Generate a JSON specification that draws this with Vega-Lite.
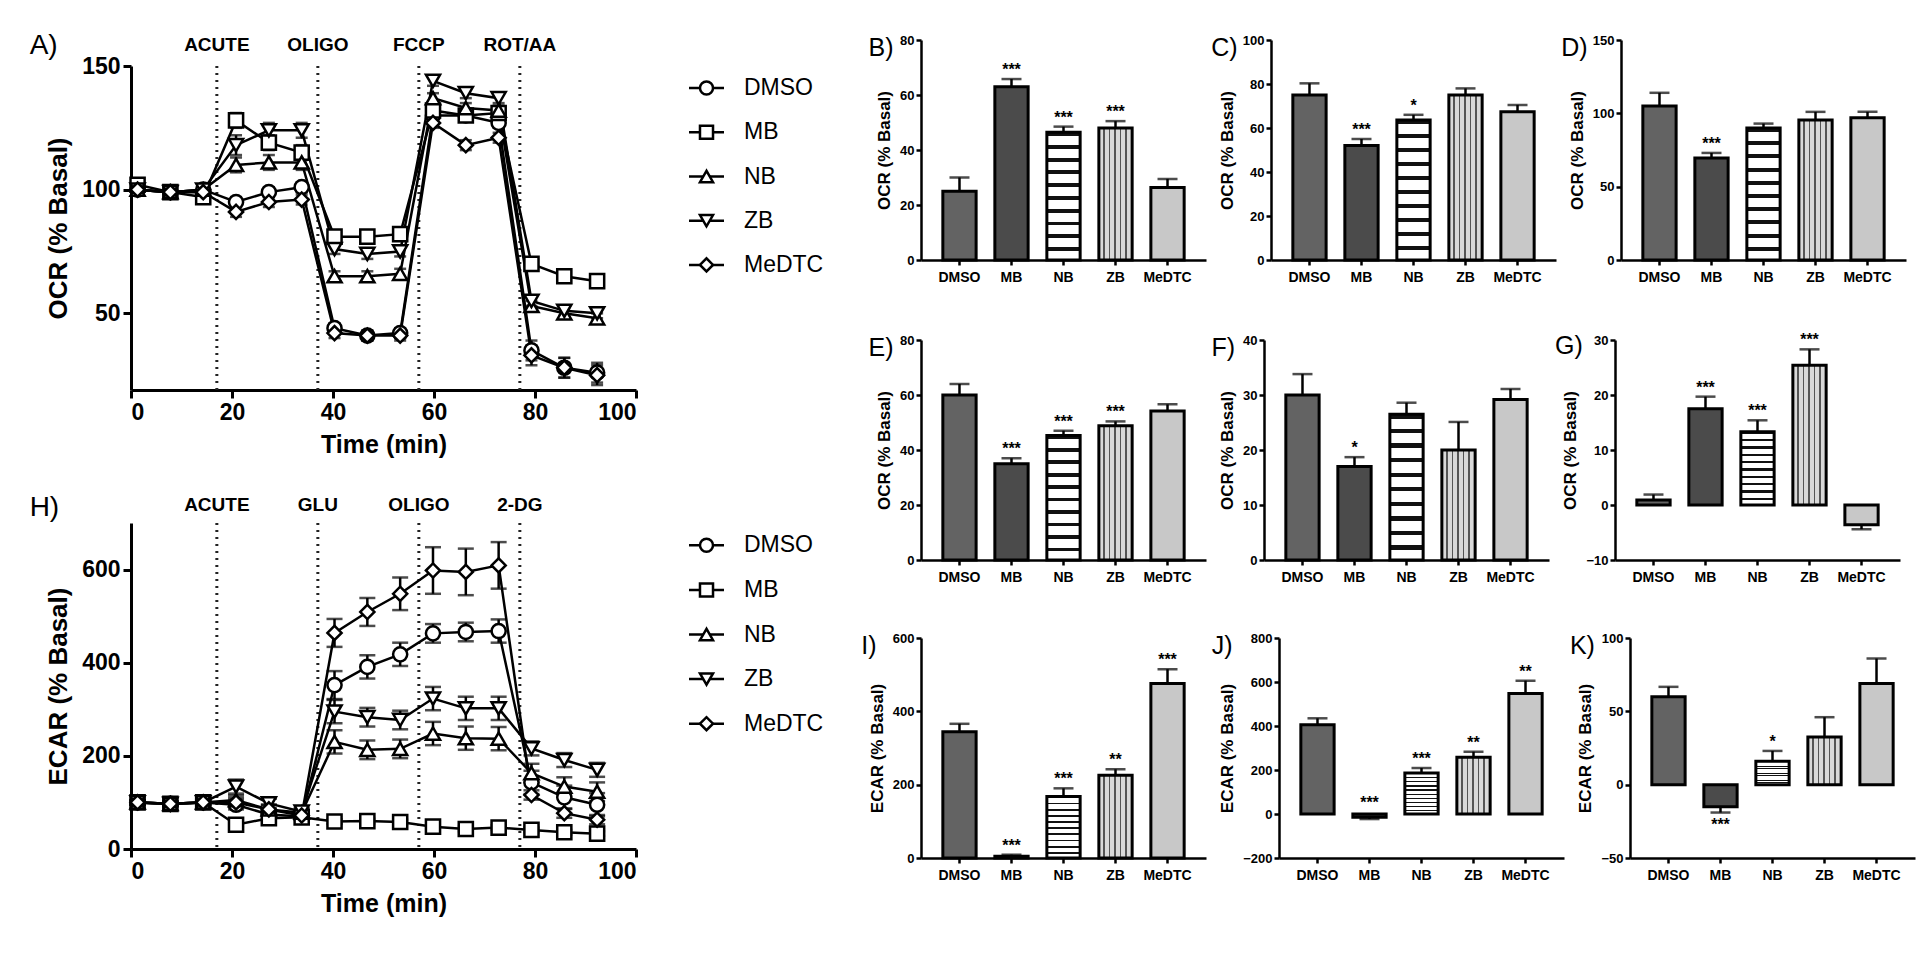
{
"$schema":"https://vega.github.io/schema/vega-lite/v6.json",
"background":"white",
"padding":{"left":29,"top":31,"right":5,"bottom":5},
"config":{"font":"Liberation Sans","view":{"stroke":null},
"axis":{"grid":false,"domainColor":"black","tickColor":"black","labelColor":"black","titleColor":"black","labelFontWeight":"bold","titleFontWeight":"bold","domainWidth":2.5,"tickWidth":2.5,"tickSize":5,"labelFontSize":13,"titleFontSize":17,"labelPadding":2,"titlePadding":6},
"title":{"fontWeight":"normal","color":"black","anchor":"start","frame":"bounds"}},
"datasets":{
"groups":[{"g":"DMSO"},{"g":"MB"},{"g":"NB"},{"g":"ZB"},{"g":"MeDTC"}],
"ocr":[
{"t":1.3,"g":"DMSO","v":100,"e":1},{"t":7.8,"g":"DMSO","v":99,"e":1},{"t":14.3,"g":"DMSO","v":100,"e":1},{"t":20.8,"g":"DMSO","v":95,"e":2},{"t":27.3,"g":"DMSO","v":99,"e":2},{"t":33.8,"g":"DMSO","v":101,"e":2},{"t":40.3,"g":"DMSO","v":44,"e":2},{"t":46.8,"g":"DMSO","v":41,"e":2},{"t":53.3,"g":"DMSO","v":42,"e":2},{"t":59.8,"g":"DMSO","v":130,"e":2},{"t":66.3,"g":"DMSO","v":130,"e":2},{"t":72.8,"g":"DMSO","v":127,"e":2},{"t":79.3,"g":"DMSO","v":35,"e":4},{"t":85.8,"g":"DMSO","v":28,"e":4},{"t":92.3,"g":"DMSO","v":26,"e":4},
{"t":1.3,"g":"MB","v":102,"e":1},{"t":7.8,"g":"MB","v":99,"e":1},{"t":14.3,"g":"MB","v":97,"e":1},{"t":20.8,"g":"MB","v":128,"e":3},{"t":27.3,"g":"MB","v":119,"e":3},{"t":33.8,"g":"MB","v":115,"e":3},{"t":40.3,"g":"MB","v":81,"e":2},{"t":46.8,"g":"MB","v":81,"e":2},{"t":53.3,"g":"MB","v":82,"e":2},{"t":59.8,"g":"MB","v":132,"e":2},{"t":66.3,"g":"MB","v":130,"e":2},{"t":72.8,"g":"MB","v":131,"e":2},{"t":79.3,"g":"MB","v":70,"e":2},{"t":85.8,"g":"MB","v":65,"e":2},{"t":92.3,"g":"MB","v":63,"e":2},
{"t":1.3,"g":"NB","v":100,"e":1},{"t":7.8,"g":"NB","v":99,"e":1},{"t":14.3,"g":"NB","v":100,"e":1},{"t":20.8,"g":"NB","v":110,"e":3},{"t":27.3,"g":"NB","v":111,"e":3},{"t":33.8,"g":"NB","v":111,"e":3},{"t":40.3,"g":"NB","v":65,"e":2},{"t":46.8,"g":"NB","v":65,"e":2},{"t":53.3,"g":"NB","v":66,"e":2},{"t":59.8,"g":"NB","v":137,"e":2},{"t":66.3,"g":"NB","v":133,"e":2},{"t":72.8,"g":"NB","v":132,"e":2},{"t":79.3,"g":"NB","v":53,"e":2},{"t":85.8,"g":"NB","v":50,"e":2},{"t":92.3,"g":"NB","v":48,"e":2},
{"t":1.3,"g":"ZB","v":100,"e":1},{"t":7.8,"g":"ZB","v":99,"e":1},{"t":14.3,"g":"ZB","v":100,"e":1},{"t":20.8,"g":"ZB","v":118,"e":4},{"t":27.3,"g":"ZB","v":124,"e":3},{"t":33.8,"g":"ZB","v":124,"e":3},{"t":40.3,"g":"ZB","v":76,"e":2},{"t":46.8,"g":"ZB","v":74,"e":2},{"t":53.3,"g":"ZB","v":75,"e":2},{"t":59.8,"g":"ZB","v":144,"e":2},{"t":66.3,"g":"ZB","v":139,"e":2},{"t":72.8,"g":"ZB","v":137,"e":2},{"t":79.3,"g":"ZB","v":55,"e":2},{"t":85.8,"g":"ZB","v":51,"e":2},{"t":92.3,"g":"ZB","v":50,"e":2},
{"t":1.3,"g":"MeDTC","v":100,"e":1},{"t":7.8,"g":"MeDTC","v":99,"e":1},{"t":14.3,"g":"MeDTC","v":99,"e":1},{"t":20.8,"g":"MeDTC","v":91,"e":2},{"t":27.3,"g":"MeDTC","v":95,"e":2},{"t":33.8,"g":"MeDTC","v":96,"e":2},{"t":40.3,"g":"MeDTC","v":42,"e":2},{"t":46.8,"g":"MeDTC","v":41,"e":2},{"t":53.3,"g":"MeDTC","v":41,"e":2},{"t":59.8,"g":"MeDTC","v":127,"e":2},{"t":66.3,"g":"MeDTC","v":118,"e":2},{"t":72.8,"g":"MeDTC","v":121,"e":2},{"t":79.3,"g":"MeDTC","v":33,"e":4},{"t":85.8,"g":"MeDTC","v":28,"e":4},{"t":92.3,"g":"MeDTC","v":25,"e":4}
],
"ecar":[
{"t":1.3,"g":"DMSO","v":100,"e":5},{"t":7.8,"g":"DMSO","v":97,"e":5},{"t":14.3,"g":"DMSO","v":100,"e":5},{"t":20.8,"g":"DMSO","v":95,"e":10},{"t":27.3,"g":"DMSO","v":74,"e":10},{"t":33.8,"g":"DMSO","v":70,"e":8},{"t":40.3,"g":"DMSO","v":352,"e":30},{"t":46.8,"g":"DMSO","v":391,"e":25},{"t":53.3,"g":"DMSO","v":418,"e":25},{"t":59.8,"g":"DMSO","v":463,"e":20},{"t":66.3,"g":"DMSO","v":466,"e":20},{"t":72.8,"g":"DMSO","v":468,"e":25},{"t":79.3,"g":"DMSO","v":143,"e":25},{"t":85.8,"g":"DMSO","v":111,"e":25},{"t":92.3,"g":"DMSO","v":95,"e":25},
{"t":1.3,"g":"MB","v":100,"e":5},{"t":7.8,"g":"MB","v":97,"e":5},{"t":14.3,"g":"MB","v":100,"e":5},{"t":20.8,"g":"MB","v":52,"e":5},{"t":27.3,"g":"MB","v":66,"e":5},{"t":33.8,"g":"MB","v":68,"e":5},{"t":40.3,"g":"MB","v":59,"e":5},{"t":46.8,"g":"MB","v":60,"e":5},{"t":53.3,"g":"MB","v":58,"e":5},{"t":59.8,"g":"MB","v":48,"e":5},{"t":66.3,"g":"MB","v":43,"e":5},{"t":72.8,"g":"MB","v":46,"e":5},{"t":79.3,"g":"MB","v":41,"e":5},{"t":85.8,"g":"MB","v":36,"e":5},{"t":92.3,"g":"MB","v":33,"e":5},
{"t":1.3,"g":"NB","v":100,"e":5},{"t":7.8,"g":"NB","v":97,"e":5},{"t":14.3,"g":"NB","v":100,"e":5},{"t":20.8,"g":"NB","v":105,"e":10},{"t":27.3,"g":"NB","v":85,"e":10},{"t":33.8,"g":"NB","v":78,"e":8},{"t":40.3,"g":"NB","v":230,"e":25},{"t":46.8,"g":"NB","v":213,"e":20},{"t":53.3,"g":"NB","v":215,"e":20},{"t":59.8,"g":"NB","v":248,"e":25},{"t":66.3,"g":"NB","v":238,"e":25},{"t":72.8,"g":"NB","v":237,"e":25},{"t":79.3,"g":"NB","v":163,"e":20},{"t":85.8,"g":"NB","v":134,"e":20},{"t":92.3,"g":"NB","v":123,"e":20},
{"t":1.3,"g":"ZB","v":100,"e":5},{"t":7.8,"g":"ZB","v":97,"e":5},{"t":14.3,"g":"ZB","v":100,"e":5},{"t":20.8,"g":"ZB","v":134,"e":15},{"t":27.3,"g":"ZB","v":98,"e":10},{"t":33.8,"g":"ZB","v":80,"e":8},{"t":40.3,"g":"ZB","v":295,"e":25},{"t":46.8,"g":"ZB","v":283,"e":20},{"t":53.3,"g":"ZB","v":277,"e":20},{"t":59.8,"g":"ZB","v":323,"e":25},{"t":66.3,"g":"ZB","v":302,"e":25},{"t":72.8,"g":"ZB","v":302,"e":25},{"t":79.3,"g":"ZB","v":216,"e":15},{"t":85.8,"g":"ZB","v":191,"e":15},{"t":92.3,"g":"ZB","v":170,"e":15},
{"t":1.3,"g":"MeDTC","v":100,"e":5},{"t":7.8,"g":"MeDTC","v":97,"e":5},{"t":14.3,"g":"MeDTC","v":100,"e":5},{"t":20.8,"g":"MeDTC","v":100,"e":10},{"t":27.3,"g":"MeDTC","v":85,"e":10},{"t":33.8,"g":"MeDTC","v":72,"e":8},{"t":40.3,"g":"MeDTC","v":464,"e":30},{"t":46.8,"g":"MeDTC","v":509,"e":30},{"t":53.3,"g":"MeDTC","v":548,"e":35},{"t":59.8,"g":"MeDTC","v":598,"e":50},{"t":66.3,"g":"MeDTC","v":595,"e":50},{"t":72.8,"g":"MeDTC","v":609,"e":50},{"t":79.3,"g":"MeDTC","v":116,"e":10},{"t":85.8,"g":"MeDTC","v":77,"e":10},{"t":92.3,"g":"MeDTC","v":63,"e":10}
]},
"columns":2,"align":"none","spacing":32,
"concat":[
{"vconcat":[
{"width":1,"height":1,"data":{"values":[{"a":1}]},"mark":{"type":"point","opacity":0},"encoding":{}},
{"vconcat":[
{"hconcat":[
{"width":505,"height":324,
"title":{"text":"A)","fontSize":28,"offset":-24,"dx":-16},
"layer":[
{"data":{"values":[{"t":17,"lab":"ACUTE"},{"t":37,"lab":"OLIGO"},{"t":57,"lab":"FCCP"},{"t":77,"lab":"ROT/AA"}]},
"layer":[
{"mark":{"type":"rule","strokeDash":[2,5],"strokeWidth":3,"color":"#222"},"encoding":{"x":{"field":"t","type":"quantitative"}}},
{"mark":{"type":"text","fontSize":19,"fontWeight":"bold","color":"black"},"encoding":{"x":{"field":"t","type":"quantitative"},"y":{"datum":158.5},"text":{"field":"lab"}}}]},
{"data":{"name":"ocr"},
"encoding":{"x":{"field":"t","type":"quantitative","scale":{"domain":[0,100],"nice":false,"zero":false},"axis":{"values":[0,20,40,60,80,100],"title":"Time (min)","labelFontSize":23,"titleFontSize":25,"tickSize":8,"domainWidth":3,"tickWidth":3,"labelPadding":3,"titlePadding":8}},
"y":{"field":"v","type":"quantitative","scale":{"domain":[19,150],"nice":false,"zero":false},"axis":{"values":[50,100,150],"title":"OCR (% Basal)","labelFontSize":23,"titleFontSize":26,"tickSize":8,"domainWidth":3,"tickWidth":3,"labelPadding":3,"titlePadding":10}}},
"layer":[
{"mark":{"type":"line","color":"black","strokeWidth":2.5},"encoding":{"detail":{"field":"g"}}},
{"mark":{"type":"errorbar","ticks":{"size":12},"thickness":2.5,"color":"black"},"encoding":{"yError":{"field":"e"}}},
{"mark":{"type":"point","filled":false,"fill":"white","color":"black","strokeWidth":2.5,"size":200,"opacity":1},"encoding":{"shape":{"field":"g","type":"nominal","scale":{"domain":["DMSO","MB","NB","ZB","MeDTC"],"range":["circle","square","triangle-up","triangle-down","diamond"]},"legend":null}}}]}]},
{"width":140,"height":221,"data":{"name":"groups"},
"encoding":{"y":{"field":"g","type":"nominal","sort":["DMSO","MB","NB","ZB","MeDTC"],"scale":{"type":"point","padding":0.5},"axis":null}},
"layer":[
{"mark":{"type":"rule","strokeWidth":2.5,"color":"black"},"encoding":{"x":{"datum":0,"type":"quantitative","scale":{"domain":[0,140],"nice":false,"zero":false},"axis":null},"x2":{"datum":35}}},
{"mark":{"type":"point","filled":false,"fill":"white","color":"black","strokeWidth":2.5,"size":170,"opacity":1},"encoding":{"x":{"datum":17.5,"type":"quantitative"},"shape":{"field":"g","type":"nominal","scale":{"domain":["DMSO","MB","NB","ZB","MeDTC"],"range":["circle","square","triangle-up","triangle-down","diamond"]},"legend":null}}},
{"mark":{"type":"text","align":"left","baseline":"middle","fontSize":23,"color":"black"},"encoding":{"x":{"datum":55,"type":"quantitative"},"text":{"field":"g"}}}]}
],"spacing":49},
{"hconcat":[
{"width":505,"height":326,
"title":{"text":"H)","fontSize":28,"offset":-26,"dx":-16},
"layer":[
{"data":{"values":[{"t":17,"lab":"ACUTE"},{"t":37,"lab":"GLU"},{"t":57,"lab":"OLIGO"},{"t":77,"lab":"2-DG"}]},
"layer":[
{"mark":{"type":"rule","strokeDash":[2,5],"strokeWidth":3,"color":"#222"},"encoding":{"x":{"field":"t","type":"quantitative"}}},
{"mark":{"type":"text","fontSize":19,"fontWeight":"bold","color":"black"},"encoding":{"x":{"field":"t","type":"quantitative"},"y":{"datum":739},"text":{"field":"lab"}}}]},
{"data":{"name":"ecar"},
"encoding":{"x":{"field":"t","type":"quantitative","scale":{"domain":[0,100],"nice":false,"zero":false},"axis":{"values":[0,20,40,60,80,100],"title":"Time (min)","labelFontSize":23,"titleFontSize":25,"tickSize":8,"domainWidth":3,"tickWidth":3,"labelPadding":3,"titlePadding":8}},
"y":{"field":"v","type":"quantitative","scale":{"domain":[0,700],"nice":false},"axis":{"values":[0,200,400,600],"title":"ECAR (% Basal)","labelFontSize":23,"titleFontSize":26,"tickSize":8,"domainWidth":3,"tickWidth":3,"labelPadding":3,"titlePadding":10}}},
"layer":[
{"mark":{"type":"line","color":"black","strokeWidth":2.5},"encoding":{"detail":{"field":"g"}}},
{"mark":{"type":"errorbar","ticks":{"size":16},"thickness":2.5,"color":"black"},"encoding":{"yError":{"field":"e"}}},
{"mark":{"type":"point","filled":false,"fill":"white","color":"black","strokeWidth":2.5,"size":200,"opacity":1},"encoding":{"shape":{"field":"g","type":"nominal","scale":{"domain":["DMSO","MB","NB","ZB","MeDTC"],"range":["circle","square","triangle-up","triangle-down","diamond"]},"legend":null}}}]}]},
{"width":140,"height":223,"data":{"name":"groups"},
"encoding":{"y":{"field":"g","type":"nominal","sort":["DMSO","MB","NB","ZB","MeDTC"],"scale":{"type":"point","padding":0.5},"axis":null}},
"layer":[
{"mark":{"type":"rule","strokeWidth":2.5,"color":"black"},"encoding":{"x":{"datum":0,"type":"quantitative","scale":{"domain":[0,140],"nice":false,"zero":false},"axis":null},"x2":{"datum":35}}},
{"mark":{"type":"point","filled":false,"fill":"white","color":"black","strokeWidth":2.5,"size":170,"opacity":1},"encoding":{"x":{"datum":17.5,"type":"quantitative"},"shape":{"field":"g","type":"nominal","scale":{"domain":["DMSO","MB","NB","ZB","MeDTC"],"range":["circle","square","triangle-up","triangle-down","diamond"]},"legend":null}}},
{"mark":{"type":"text","align":"left","baseline":"middle","fontSize":23,"color":"black"},"encoding":{"x":{"datum":55,"type":"quantitative"},"text":{"field":"g"}}}]}
],"spacing":49}
],"spacing":36}
],"spacing":-13},
{"vconcat":[
{"concat":[
{"width":285,"height":220,"title":{"text":"B)","fontSize":25,"offset":-27,"dx":-7},
"data":{"values":[{"g":"DMSO","v":25,"hi":30,"s":""},{"g":"MB","v":63,"hi":65.8,"s":"***"},{"g":"NB","v":46.5,"hi":48.5,"s":"***"},{"g":"ZB","v":48,"hi":50.5,"s":"***"},{"g":"MeDTC","v":26.4,"hi":29.5,"s":""}]},
"encoding":{"x":{"field":"g","type":"nominal","sort":["DMSO","MB","NB","ZB","MeDTC"],"scale":{"paddingInner":0.36,"paddingOuter":0.42},"axis":{"title":null,"labelAngle":0,"labelFontSize":14,"labelPadding":5}}},
"layer":[
{"mark":{"type":"bar","stroke":"black","strokeWidth":3},"encoding":{"y":{"field":"v","type":"quantitative","scale":{"domain":[0,80],"nice":false},"axis":{"values":[0,20,40,60,80],"title":"OCR (% Basal)"}},
"fill":{"condition":[{"test":"datum.g==='DMSO'","value":"#636363"},{"test":"datum.g==='MB'","value":"#4b4b4b"},{"test":"datum.g==='NB'","value":{"gradient":"linear","x1":0,"y1":0,"x2":0,"y2":1,"stops":[{"offset":0,"color":"#111"},{"offset":0.03,"color":"#111"},{"offset":0.03,"color":"#fff"},{"offset":0.1,"color":"#fff"},{"offset":0.1,"color":"#111"},{"offset":0.13,"color":"#111"},{"offset":0.13,"color":"#fff"},{"offset":0.2,"color":"#fff"},{"offset":0.2,"color":"#111"},{"offset":0.23,"color":"#111"},{"offset":0.23,"color":"#fff"},{"offset":0.3,"color":"#fff"},{"offset":0.3,"color":"#111"},{"offset":0.33,"color":"#111"},{"offset":0.33,"color":"#fff"},{"offset":0.4,"color":"#fff"},{"offset":0.4,"color":"#111"},{"offset":0.43,"color":"#111"},{"offset":0.43,"color":"#fff"},{"offset":0.5,"color":"#fff"},{"offset":0.5,"color":"#111"},{"offset":0.53,"color":"#111"},{"offset":0.53,"color":"#fff"},{"offset":0.6,"color":"#fff"},{"offset":0.6,"color":"#111"},{"offset":0.63,"color":"#111"},{"offset":0.63,"color":"#fff"},{"offset":0.7,"color":"#fff"},{"offset":0.7,"color":"#111"},{"offset":0.73,"color":"#111"},{"offset":0.73,"color":"#fff"},{"offset":0.8,"color":"#fff"},{"offset":0.8,"color":"#111"},{"offset":0.83,"color":"#111"},{"offset":0.83,"color":"#fff"},{"offset":0.9,"color":"#fff"},{"offset":0.9,"color":"#111"},{"offset":0.93,"color":"#111"},{"offset":0.93,"color":"#fff"},{"offset":1,"color":"#fff"}]}},{"test":"datum.g==='ZB'","value":{"gradient":"linear","x1":0,"y1":0,"x2":1,"y2":0,"stops":[{"offset":0,"color":"#d9d9d9"},{"offset":0.12,"color":"#d9d9d9"},{"offset":0.12,"color":"#555"},{"offset":0.17,"color":"#555"},{"offset":0.17,"color":"#d9d9d9"},{"offset":0.29,"color":"#d9d9d9"},{"offset":0.29,"color":"#555"},{"offset":0.34,"color":"#555"},{"offset":0.34,"color":"#d9d9d9"},{"offset":0.46,"color":"#d9d9d9"},{"offset":0.46,"color":"#555"},{"offset":0.51,"color":"#555"},{"offset":0.51,"color":"#d9d9d9"},{"offset":0.63,"color":"#d9d9d9"},{"offset":0.63,"color":"#555"},{"offset":0.68,"color":"#555"},{"offset":0.68,"color":"#d9d9d9"},{"offset":0.8,"color":"#d9d9d9"},{"offset":0.8,"color":"#555"},{"offset":0.85,"color":"#555"},{"offset":0.85,"color":"#d9d9d9"},{"offset":1,"color":"#d9d9d9"}]}}],"value":"#c8c8c8"}}},
{"mark":{"type":"rule","strokeWidth":2.5,"color":"black"},"encoding":{"y":{"field":"v","type":"quantitative"},"y2":{"field":"hi"}}},
{"mark":{"type":"tick","thickness":2.5,"size":20,"color":"black"},"encoding":{"y":{"field":"hi","type":"quantitative"}}},
{"transform":[{"filter":"datum.hi >= datum.v"}],"mark":{"type":"text","baseline":"bottom","dy":-1,"fontSize":16,"fontWeight":"bold","color":"black"},"encoding":{"y":{"field":"hi","type":"quantitative"},"text":{"field":"s"}}}]},
{"width":285,"height":220,"title":{"text":"C)","fontSize":25,"offset":-27,"dx":-7},
"data":{"values":[{"g":"DMSO","v":75,"hi":80.3,"s":""},{"g":"MB","v":52,"hi":55,"s":"***"},{"g":"NB","v":63.6,"hi":66,"s":"*"},{"g":"ZB","v":75,"hi":78,"s":""},{"g":"MeDTC","v":67.4,"hi":70.5,"s":""}]},
"encoding":{"x":{"field":"g","type":"nominal","sort":["DMSO","MB","NB","ZB","MeDTC"],"scale":{"paddingInner":0.36,"paddingOuter":0.42},"axis":{"title":null,"labelAngle":0,"labelFontSize":14,"labelPadding":5}}},
"layer":[
{"mark":{"type":"bar","stroke":"black","strokeWidth":3},"encoding":{"y":{"field":"v","type":"quantitative","scale":{"domain":[0,100],"nice":false},"axis":{"values":[0,20,40,60,80,100],"title":"OCR (% Basal)"}},
"fill":{"condition":[{"test":"datum.g==='DMSO'","value":"#636363"},{"test":"datum.g==='MB'","value":"#4b4b4b"},{"test":"datum.g==='NB'","value":{"gradient":"linear","x1":0,"y1":0,"x2":0,"y2":1,"stops":[{"offset":0,"color":"#111"},{"offset":0.03,"color":"#111"},{"offset":0.03,"color":"#fff"},{"offset":0.1,"color":"#fff"},{"offset":0.1,"color":"#111"},{"offset":0.13,"color":"#111"},{"offset":0.13,"color":"#fff"},{"offset":0.2,"color":"#fff"},{"offset":0.2,"color":"#111"},{"offset":0.23,"color":"#111"},{"offset":0.23,"color":"#fff"},{"offset":0.3,"color":"#fff"},{"offset":0.3,"color":"#111"},{"offset":0.33,"color":"#111"},{"offset":0.33,"color":"#fff"},{"offset":0.4,"color":"#fff"},{"offset":0.4,"color":"#111"},{"offset":0.43,"color":"#111"},{"offset":0.43,"color":"#fff"},{"offset":0.5,"color":"#fff"},{"offset":0.5,"color":"#111"},{"offset":0.53,"color":"#111"},{"offset":0.53,"color":"#fff"},{"offset":0.6,"color":"#fff"},{"offset":0.6,"color":"#111"},{"offset":0.63,"color":"#111"},{"offset":0.63,"color":"#fff"},{"offset":0.7,"color":"#fff"},{"offset":0.7,"color":"#111"},{"offset":0.73,"color":"#111"},{"offset":0.73,"color":"#fff"},{"offset":0.8,"color":"#fff"},{"offset":0.8,"color":"#111"},{"offset":0.83,"color":"#111"},{"offset":0.83,"color":"#fff"},{"offset":0.9,"color":"#fff"},{"offset":0.9,"color":"#111"},{"offset":0.93,"color":"#111"},{"offset":0.93,"color":"#fff"},{"offset":1,"color":"#fff"}]}},{"test":"datum.g==='ZB'","value":{"gradient":"linear","x1":0,"y1":0,"x2":1,"y2":0,"stops":[{"offset":0,"color":"#d9d9d9"},{"offset":0.12,"color":"#d9d9d9"},{"offset":0.12,"color":"#555"},{"offset":0.17,"color":"#555"},{"offset":0.17,"color":"#d9d9d9"},{"offset":0.29,"color":"#d9d9d9"},{"offset":0.29,"color":"#555"},{"offset":0.34,"color":"#555"},{"offset":0.34,"color":"#d9d9d9"},{"offset":0.46,"color":"#d9d9d9"},{"offset":0.46,"color":"#555"},{"offset":0.51,"color":"#555"},{"offset":0.51,"color":"#d9d9d9"},{"offset":0.63,"color":"#d9d9d9"},{"offset":0.63,"color":"#555"},{"offset":0.68,"color":"#555"},{"offset":0.68,"color":"#d9d9d9"},{"offset":0.8,"color":"#d9d9d9"},{"offset":0.8,"color":"#555"},{"offset":0.85,"color":"#555"},{"offset":0.85,"color":"#d9d9d9"},{"offset":1,"color":"#d9d9d9"}]}}],"value":"#c8c8c8"}}},
{"mark":{"type":"rule","strokeWidth":2.5,"color":"black"},"encoding":{"y":{"field":"v","type":"quantitative"},"y2":{"field":"hi"}}},
{"mark":{"type":"tick","thickness":2.5,"size":20,"color":"black"},"encoding":{"y":{"field":"hi","type":"quantitative"}}},
{"transform":[{"filter":"datum.hi >= datum.v"}],"mark":{"type":"text","baseline":"bottom","dy":-1,"fontSize":16,"fontWeight":"bold","color":"black"},"encoding":{"y":{"field":"hi","type":"quantitative"},"text":{"field":"s"}}}]},
{"width":285,"height":220,"title":{"text":"D)","fontSize":25,"offset":-27,"dx":-7},
"data":{"values":[{"g":"DMSO","v":105,"hi":114,"s":""},{"g":"MB","v":69.5,"hi":73,"s":"***"},{"g":"NB","v":90,"hi":93,"s":""},{"g":"ZB","v":95.5,"hi":101,"s":""},{"g":"MeDTC","v":97,"hi":101,"s":""}]},
"encoding":{"x":{"field":"g","type":"nominal","sort":["DMSO","MB","NB","ZB","MeDTC"],"scale":{"paddingInner":0.36,"paddingOuter":0.42},"axis":{"title":null,"labelAngle":0,"labelFontSize":14,"labelPadding":5}}},
"layer":[
{"mark":{"type":"bar","stroke":"black","strokeWidth":3},"encoding":{"y":{"field":"v","type":"quantitative","scale":{"domain":[0,150],"nice":false},"axis":{"values":[0,50,100,150],"title":"OCR (% Basal)"}},
"fill":{"condition":[{"test":"datum.g==='DMSO'","value":"#636363"},{"test":"datum.g==='MB'","value":"#4b4b4b"},{"test":"datum.g==='NB'","value":{"gradient":"linear","x1":0,"y1":0,"x2":0,"y2":1,"stops":[{"offset":0,"color":"#111"},{"offset":0.03,"color":"#111"},{"offset":0.03,"color":"#fff"},{"offset":0.1,"color":"#fff"},{"offset":0.1,"color":"#111"},{"offset":0.13,"color":"#111"},{"offset":0.13,"color":"#fff"},{"offset":0.2,"color":"#fff"},{"offset":0.2,"color":"#111"},{"offset":0.23,"color":"#111"},{"offset":0.23,"color":"#fff"},{"offset":0.3,"color":"#fff"},{"offset":0.3,"color":"#111"},{"offset":0.33,"color":"#111"},{"offset":0.33,"color":"#fff"},{"offset":0.4,"color":"#fff"},{"offset":0.4,"color":"#111"},{"offset":0.43,"color":"#111"},{"offset":0.43,"color":"#fff"},{"offset":0.5,"color":"#fff"},{"offset":0.5,"color":"#111"},{"offset":0.53,"color":"#111"},{"offset":0.53,"color":"#fff"},{"offset":0.6,"color":"#fff"},{"offset":0.6,"color":"#111"},{"offset":0.63,"color":"#111"},{"offset":0.63,"color":"#fff"},{"offset":0.7,"color":"#fff"},{"offset":0.7,"color":"#111"},{"offset":0.73,"color":"#111"},{"offset":0.73,"color":"#fff"},{"offset":0.8,"color":"#fff"},{"offset":0.8,"color":"#111"},{"offset":0.83,"color":"#111"},{"offset":0.83,"color":"#fff"},{"offset":0.9,"color":"#fff"},{"offset":0.9,"color":"#111"},{"offset":0.93,"color":"#111"},{"offset":0.93,"color":"#fff"},{"offset":1,"color":"#fff"}]}},{"test":"datum.g==='ZB'","value":{"gradient":"linear","x1":0,"y1":0,"x2":1,"y2":0,"stops":[{"offset":0,"color":"#d9d9d9"},{"offset":0.12,"color":"#d9d9d9"},{"offset":0.12,"color":"#555"},{"offset":0.17,"color":"#555"},{"offset":0.17,"color":"#d9d9d9"},{"offset":0.29,"color":"#d9d9d9"},{"offset":0.29,"color":"#555"},{"offset":0.34,"color":"#555"},{"offset":0.34,"color":"#d9d9d9"},{"offset":0.46,"color":"#d9d9d9"},{"offset":0.46,"color":"#555"},{"offset":0.51,"color":"#555"},{"offset":0.51,"color":"#d9d9d9"},{"offset":0.63,"color":"#d9d9d9"},{"offset":0.63,"color":"#555"},{"offset":0.68,"color":"#555"},{"offset":0.68,"color":"#d9d9d9"},{"offset":0.8,"color":"#d9d9d9"},{"offset":0.8,"color":"#555"},{"offset":0.85,"color":"#555"},{"offset":0.85,"color":"#d9d9d9"},{"offset":1,"color":"#d9d9d9"}]}}],"value":"#c8c8c8"}}},
{"mark":{"type":"rule","strokeWidth":2.5,"color":"black"},"encoding":{"y":{"field":"v","type":"quantitative"},"y2":{"field":"hi"}}},
{"mark":{"type":"tick","thickness":2.5,"size":20,"color":"black"},"encoding":{"y":{"field":"hi","type":"quantitative"}}},
{"transform":[{"filter":"datum.hi >= datum.v"}],"mark":{"type":"text","baseline":"bottom","dy":-1,"fontSize":16,"fontWeight":"bold","color":"black"},"encoding":{"y":{"field":"hi","type":"quantitative"},"text":{"field":"s"}}}]}
],"columns":3,"align":"none","spacing":5},
{"concat":[
{"width":285,"height":220,"title":{"text":"E)","fontSize":25,"offset":-27,"dx":-7},
"data":{"values":[{"g":"DMSO","v":60,"hi":64,"s":""},{"g":"MB","v":35,"hi":37,"s":"***"},{"g":"NB","v":45.3,"hi":47,"s":"***"},{"g":"ZB","v":48.8,"hi":50.4,"s":"***"},{"g":"MeDTC","v":54.2,"hi":56.6,"s":""}]},
"encoding":{"x":{"field":"g","type":"nominal","sort":["DMSO","MB","NB","ZB","MeDTC"],"scale":{"paddingInner":0.36,"paddingOuter":0.42},"axis":{"title":null,"labelAngle":0,"labelFontSize":14,"labelPadding":5}}},
"layer":[
{"mark":{"type":"bar","stroke":"black","strokeWidth":3},"encoding":{"y":{"field":"v","type":"quantitative","scale":{"domain":[0,80],"nice":false},"axis":{"values":[0,20,40,60,80],"title":"OCR (% Basal)"}},
"fill":{"condition":[{"test":"datum.g==='DMSO'","value":"#636363"},{"test":"datum.g==='MB'","value":"#4b4b4b"},{"test":"datum.g==='NB'","value":{"gradient":"linear","x1":0,"y1":0,"x2":0,"y2":1,"stops":[{"offset":0,"color":"#111"},{"offset":0.03,"color":"#111"},{"offset":0.03,"color":"#fff"},{"offset":0.1,"color":"#fff"},{"offset":0.1,"color":"#111"},{"offset":0.13,"color":"#111"},{"offset":0.13,"color":"#fff"},{"offset":0.2,"color":"#fff"},{"offset":0.2,"color":"#111"},{"offset":0.23,"color":"#111"},{"offset":0.23,"color":"#fff"},{"offset":0.3,"color":"#fff"},{"offset":0.3,"color":"#111"},{"offset":0.33,"color":"#111"},{"offset":0.33,"color":"#fff"},{"offset":0.4,"color":"#fff"},{"offset":0.4,"color":"#111"},{"offset":0.43,"color":"#111"},{"offset":0.43,"color":"#fff"},{"offset":0.5,"color":"#fff"},{"offset":0.5,"color":"#111"},{"offset":0.53,"color":"#111"},{"offset":0.53,"color":"#fff"},{"offset":0.6,"color":"#fff"},{"offset":0.6,"color":"#111"},{"offset":0.63,"color":"#111"},{"offset":0.63,"color":"#fff"},{"offset":0.7,"color":"#fff"},{"offset":0.7,"color":"#111"},{"offset":0.73,"color":"#111"},{"offset":0.73,"color":"#fff"},{"offset":0.8,"color":"#fff"},{"offset":0.8,"color":"#111"},{"offset":0.83,"color":"#111"},{"offset":0.83,"color":"#fff"},{"offset":0.9,"color":"#fff"},{"offset":0.9,"color":"#111"},{"offset":0.93,"color":"#111"},{"offset":0.93,"color":"#fff"},{"offset":1,"color":"#fff"}]}},{"test":"datum.g==='ZB'","value":{"gradient":"linear","x1":0,"y1":0,"x2":1,"y2":0,"stops":[{"offset":0,"color":"#d9d9d9"},{"offset":0.12,"color":"#d9d9d9"},{"offset":0.12,"color":"#555"},{"offset":0.17,"color":"#555"},{"offset":0.17,"color":"#d9d9d9"},{"offset":0.29,"color":"#d9d9d9"},{"offset":0.29,"color":"#555"},{"offset":0.34,"color":"#555"},{"offset":0.34,"color":"#d9d9d9"},{"offset":0.46,"color":"#d9d9d9"},{"offset":0.46,"color":"#555"},{"offset":0.51,"color":"#555"},{"offset":0.51,"color":"#d9d9d9"},{"offset":0.63,"color":"#d9d9d9"},{"offset":0.63,"color":"#555"},{"offset":0.68,"color":"#555"},{"offset":0.68,"color":"#d9d9d9"},{"offset":0.8,"color":"#d9d9d9"},{"offset":0.8,"color":"#555"},{"offset":0.85,"color":"#555"},{"offset":0.85,"color":"#d9d9d9"},{"offset":1,"color":"#d9d9d9"}]}}],"value":"#c8c8c8"}}},
{"mark":{"type":"rule","strokeWidth":2.5,"color":"black"},"encoding":{"y":{"field":"v","type":"quantitative"},"y2":{"field":"hi"}}},
{"mark":{"type":"tick","thickness":2.5,"size":20,"color":"black"},"encoding":{"y":{"field":"hi","type":"quantitative"}}},
{"transform":[{"filter":"datum.hi >= datum.v"}],"mark":{"type":"text","baseline":"bottom","dy":-1,"fontSize":16,"fontWeight":"bold","color":"black"},"encoding":{"y":{"field":"hi","type":"quantitative"},"text":{"field":"s"}}}]},
{"width":285,"height":220,"title":{"text":"F)","fontSize":25,"offset":-27,"dx":-7},
"data":{"values":[{"g":"DMSO","v":30,"hi":33.8,"s":""},{"g":"MB","v":17,"hi":18.7,"s":"*"},{"g":"NB","v":26.5,"hi":28.6,"s":""},{"g":"ZB","v":20,"hi":25.1,"s":""},{"g":"MeDTC","v":29.2,"hi":31.1,"s":""}]},
"encoding":{"x":{"field":"g","type":"nominal","sort":["DMSO","MB","NB","ZB","MeDTC"],"scale":{"paddingInner":0.36,"paddingOuter":0.42},"axis":{"title":null,"labelAngle":0,"labelFontSize":14,"labelPadding":5}}},
"layer":[
{"mark":{"type":"bar","stroke":"black","strokeWidth":3},"encoding":{"y":{"field":"v","type":"quantitative","scale":{"domain":[0,40],"nice":false},"axis":{"values":[0,10,20,30,40],"title":"OCR (% Basal)"}},
"fill":{"condition":[{"test":"datum.g==='DMSO'","value":"#636363"},{"test":"datum.g==='MB'","value":"#4b4b4b"},{"test":"datum.g==='NB'","value":{"gradient":"linear","x1":0,"y1":0,"x2":0,"y2":1,"stops":[{"offset":0,"color":"#111"},{"offset":0.03,"color":"#111"},{"offset":0.03,"color":"#fff"},{"offset":0.1,"color":"#fff"},{"offset":0.1,"color":"#111"},{"offset":0.13,"color":"#111"},{"offset":0.13,"color":"#fff"},{"offset":0.2,"color":"#fff"},{"offset":0.2,"color":"#111"},{"offset":0.23,"color":"#111"},{"offset":0.23,"color":"#fff"},{"offset":0.3,"color":"#fff"},{"offset":0.3,"color":"#111"},{"offset":0.33,"color":"#111"},{"offset":0.33,"color":"#fff"},{"offset":0.4,"color":"#fff"},{"offset":0.4,"color":"#111"},{"offset":0.43,"color":"#111"},{"offset":0.43,"color":"#fff"},{"offset":0.5,"color":"#fff"},{"offset":0.5,"color":"#111"},{"offset":0.53,"color":"#111"},{"offset":0.53,"color":"#fff"},{"offset":0.6,"color":"#fff"},{"offset":0.6,"color":"#111"},{"offset":0.63,"color":"#111"},{"offset":0.63,"color":"#fff"},{"offset":0.7,"color":"#fff"},{"offset":0.7,"color":"#111"},{"offset":0.73,"color":"#111"},{"offset":0.73,"color":"#fff"},{"offset":0.8,"color":"#fff"},{"offset":0.8,"color":"#111"},{"offset":0.83,"color":"#111"},{"offset":0.83,"color":"#fff"},{"offset":0.9,"color":"#fff"},{"offset":0.9,"color":"#111"},{"offset":0.93,"color":"#111"},{"offset":0.93,"color":"#fff"},{"offset":1,"color":"#fff"}]}},{"test":"datum.g==='ZB'","value":{"gradient":"linear","x1":0,"y1":0,"x2":1,"y2":0,"stops":[{"offset":0,"color":"#d9d9d9"},{"offset":0.12,"color":"#d9d9d9"},{"offset":0.12,"color":"#555"},{"offset":0.17,"color":"#555"},{"offset":0.17,"color":"#d9d9d9"},{"offset":0.29,"color":"#d9d9d9"},{"offset":0.29,"color":"#555"},{"offset":0.34,"color":"#555"},{"offset":0.34,"color":"#d9d9d9"},{"offset":0.46,"color":"#d9d9d9"},{"offset":0.46,"color":"#555"},{"offset":0.51,"color":"#555"},{"offset":0.51,"color":"#d9d9d9"},{"offset":0.63,"color":"#d9d9d9"},{"offset":0.63,"color":"#555"},{"offset":0.68,"color":"#555"},{"offset":0.68,"color":"#d9d9d9"},{"offset":0.8,"color":"#d9d9d9"},{"offset":0.8,"color":"#555"},{"offset":0.85,"color":"#555"},{"offset":0.85,"color":"#d9d9d9"},{"offset":1,"color":"#d9d9d9"}]}}],"value":"#c8c8c8"}}},
{"mark":{"type":"rule","strokeWidth":2.5,"color":"black"},"encoding":{"y":{"field":"v","type":"quantitative"},"y2":{"field":"hi"}}},
{"mark":{"type":"tick","thickness":2.5,"size":20,"color":"black"},"encoding":{"y":{"field":"hi","type":"quantitative"}}},
{"transform":[{"filter":"datum.hi >= datum.v"}],"mark":{"type":"text","baseline":"bottom","dy":-1,"fontSize":16,"fontWeight":"bold","color":"black"},"encoding":{"y":{"field":"hi","type":"quantitative"},"text":{"field":"s"}}}]},
{"width":285,"height":220,"title":{"text":"G)","fontSize":25,"offset":-27,"dx":-7},
"data":{"values":[{"g":"DMSO","v":0.9,"hi":1.9,"s":""},{"g":"MB","v":17.5,"hi":19.7,"s":"***"},{"g":"NB","v":13.3,"hi":15.4,"s":"***"},{"g":"ZB","v":25.4,"hi":28.3,"s":"***"},{"g":"MeDTC","v":-3.6,"hi":-4.4,"s":""}]},
"encoding":{"x":{"field":"g","type":"nominal","sort":["DMSO","MB","NB","ZB","MeDTC"],"scale":{"paddingInner":0.36,"paddingOuter":0.42},"axis":{"title":null,"labelAngle":0,"labelFontSize":14,"labelPadding":5}}},
"layer":[
{"mark":{"type":"rule","strokeWidth":2.5,"color":"black"},"encoding":{"y":{"datum":0}}},
{"mark":{"type":"bar","stroke":"black","strokeWidth":3},"encoding":{"y":{"field":"v","type":"quantitative","scale":{"domain":[-10,30],"nice":false},"axis":{"values":[-10,0,10,20,30],"title":"OCR (% Basal)"}},
"fill":{"condition":[{"test":"datum.g==='DMSO'","value":"#636363"},{"test":"datum.g==='MB'","value":"#4b4b4b"},{"test":"datum.g==='NB'","value":{"gradient":"linear","x1":0,"y1":0,"x2":0,"y2":1,"stops":[{"offset":0,"color":"#111"},{"offset":0.03,"color":"#111"},{"offset":0.03,"color":"#fff"},{"offset":0.1,"color":"#fff"},{"offset":0.1,"color":"#111"},{"offset":0.13,"color":"#111"},{"offset":0.13,"color":"#fff"},{"offset":0.2,"color":"#fff"},{"offset":0.2,"color":"#111"},{"offset":0.23,"color":"#111"},{"offset":0.23,"color":"#fff"},{"offset":0.3,"color":"#fff"},{"offset":0.3,"color":"#111"},{"offset":0.33,"color":"#111"},{"offset":0.33,"color":"#fff"},{"offset":0.4,"color":"#fff"},{"offset":0.4,"color":"#111"},{"offset":0.43,"color":"#111"},{"offset":0.43,"color":"#fff"},{"offset":0.5,"color":"#fff"},{"offset":0.5,"color":"#111"},{"offset":0.53,"color":"#111"},{"offset":0.53,"color":"#fff"},{"offset":0.6,"color":"#fff"},{"offset":0.6,"color":"#111"},{"offset":0.63,"color":"#111"},{"offset":0.63,"color":"#fff"},{"offset":0.7,"color":"#fff"},{"offset":0.7,"color":"#111"},{"offset":0.73,"color":"#111"},{"offset":0.73,"color":"#fff"},{"offset":0.8,"color":"#fff"},{"offset":0.8,"color":"#111"},{"offset":0.83,"color":"#111"},{"offset":0.83,"color":"#fff"},{"offset":0.9,"color":"#fff"},{"offset":0.9,"color":"#111"},{"offset":0.93,"color":"#111"},{"offset":0.93,"color":"#fff"},{"offset":1,"color":"#fff"}]}},{"test":"datum.g==='ZB'","value":{"gradient":"linear","x1":0,"y1":0,"x2":1,"y2":0,"stops":[{"offset":0,"color":"#d9d9d9"},{"offset":0.12,"color":"#d9d9d9"},{"offset":0.12,"color":"#555"},{"offset":0.17,"color":"#555"},{"offset":0.17,"color":"#d9d9d9"},{"offset":0.29,"color":"#d9d9d9"},{"offset":0.29,"color":"#555"},{"offset":0.34,"color":"#555"},{"offset":0.34,"color":"#d9d9d9"},{"offset":0.46,"color":"#d9d9d9"},{"offset":0.46,"color":"#555"},{"offset":0.51,"color":"#555"},{"offset":0.51,"color":"#d9d9d9"},{"offset":0.63,"color":"#d9d9d9"},{"offset":0.63,"color":"#555"},{"offset":0.68,"color":"#555"},{"offset":0.68,"color":"#d9d9d9"},{"offset":0.8,"color":"#d9d9d9"},{"offset":0.8,"color":"#555"},{"offset":0.85,"color":"#555"},{"offset":0.85,"color":"#d9d9d9"},{"offset":1,"color":"#d9d9d9"}]}}],"value":"#c8c8c8"}}},
{"mark":{"type":"rule","strokeWidth":2.5,"color":"black"},"encoding":{"y":{"field":"v","type":"quantitative"},"y2":{"field":"hi"}}},
{"mark":{"type":"tick","thickness":2.5,"size":20,"color":"black"},"encoding":{"y":{"field":"hi","type":"quantitative"}}},
{"transform":[{"filter":"datum.hi >= datum.v"}],"mark":{"type":"text","baseline":"bottom","dy":-1,"fontSize":16,"fontWeight":"bold","color":"black"},"encoding":{"y":{"field":"hi","type":"quantitative"},"text":{"field":"s"}}}]}
],"columns":3,"align":"none","spacing":5},
{"concat":[
{"width":285,"height":220,"title":{"text":"I)","fontSize":25,"offset":-27,"dx":-7},
"data":{"values":[{"g":"DMSO","v":344,"hi":366,"s":""},{"g":"MB","v":5,"hi":9,"s":"***"},{"g":"NB","v":168,"hi":190,"s":"***"},{"g":"ZB","v":226,"hi":242,"s":"**"},{"g":"MeDTC","v":476,"hi":515,"s":"***"}]},
"encoding":{"x":{"field":"g","type":"nominal","sort":["DMSO","MB","NB","ZB","MeDTC"],"scale":{"paddingInner":0.36,"paddingOuter":0.42},"axis":{"title":null,"labelAngle":0,"labelFontSize":14,"labelPadding":5}}},
"layer":[
{"mark":{"type":"bar","stroke":"black","strokeWidth":3},"encoding":{"y":{"field":"v","type":"quantitative","scale":{"domain":[0,600],"nice":false},"axis":{"values":[0,200,400,600],"title":"ECAR (% Basal)"}},
"fill":{"condition":[{"test":"datum.g==='DMSO'","value":"#636363"},{"test":"datum.g==='MB'","value":"#4b4b4b"},{"test":"datum.g==='NB'","value":{"gradient":"linear","x1":0,"y1":0,"x2":0,"y2":1,"stops":[{"offset":0,"color":"#111"},{"offset":0.03,"color":"#111"},{"offset":0.03,"color":"#fff"},{"offset":0.1,"color":"#fff"},{"offset":0.1,"color":"#111"},{"offset":0.13,"color":"#111"},{"offset":0.13,"color":"#fff"},{"offset":0.2,"color":"#fff"},{"offset":0.2,"color":"#111"},{"offset":0.23,"color":"#111"},{"offset":0.23,"color":"#fff"},{"offset":0.3,"color":"#fff"},{"offset":0.3,"color":"#111"},{"offset":0.33,"color":"#111"},{"offset":0.33,"color":"#fff"},{"offset":0.4,"color":"#fff"},{"offset":0.4,"color":"#111"},{"offset":0.43,"color":"#111"},{"offset":0.43,"color":"#fff"},{"offset":0.5,"color":"#fff"},{"offset":0.5,"color":"#111"},{"offset":0.53,"color":"#111"},{"offset":0.53,"color":"#fff"},{"offset":0.6,"color":"#fff"},{"offset":0.6,"color":"#111"},{"offset":0.63,"color":"#111"},{"offset":0.63,"color":"#fff"},{"offset":0.7,"color":"#fff"},{"offset":0.7,"color":"#111"},{"offset":0.73,"color":"#111"},{"offset":0.73,"color":"#fff"},{"offset":0.8,"color":"#fff"},{"offset":0.8,"color":"#111"},{"offset":0.83,"color":"#111"},{"offset":0.83,"color":"#fff"},{"offset":0.9,"color":"#fff"},{"offset":0.9,"color":"#111"},{"offset":0.93,"color":"#111"},{"offset":0.93,"color":"#fff"},{"offset":1,"color":"#fff"}]}},{"test":"datum.g==='ZB'","value":{"gradient":"linear","x1":0,"y1":0,"x2":1,"y2":0,"stops":[{"offset":0,"color":"#d9d9d9"},{"offset":0.12,"color":"#d9d9d9"},{"offset":0.12,"color":"#555"},{"offset":0.17,"color":"#555"},{"offset":0.17,"color":"#d9d9d9"},{"offset":0.29,"color":"#d9d9d9"},{"offset":0.29,"color":"#555"},{"offset":0.34,"color":"#555"},{"offset":0.34,"color":"#d9d9d9"},{"offset":0.46,"color":"#d9d9d9"},{"offset":0.46,"color":"#555"},{"offset":0.51,"color":"#555"},{"offset":0.51,"color":"#d9d9d9"},{"offset":0.63,"color":"#d9d9d9"},{"offset":0.63,"color":"#555"},{"offset":0.68,"color":"#555"},{"offset":0.68,"color":"#d9d9d9"},{"offset":0.8,"color":"#d9d9d9"},{"offset":0.8,"color":"#555"},{"offset":0.85,"color":"#555"},{"offset":0.85,"color":"#d9d9d9"},{"offset":1,"color":"#d9d9d9"}]}}],"value":"#c8c8c8"}}},
{"mark":{"type":"rule","strokeWidth":2.5,"color":"black"},"encoding":{"y":{"field":"v","type":"quantitative"},"y2":{"field":"hi"}}},
{"mark":{"type":"tick","thickness":2.5,"size":20,"color":"black"},"encoding":{"y":{"field":"hi","type":"quantitative"}}},
{"transform":[{"filter":"datum.hi >= datum.v"}],"mark":{"type":"text","baseline":"bottom","dy":-1,"fontSize":16,"fontWeight":"bold","color":"black"},"encoding":{"y":{"field":"hi","type":"quantitative"},"text":{"field":"s"}}}]},
{"width":285,"height":220,"title":{"text":"J)","fontSize":25,"offset":-27,"dx":-7},
"data":{"values":[{"g":"DMSO","v":406,"hi":435,"s":""},{"g":"MB","v":-15,"hi":-23,"s":"***"},{"g":"NB","v":186,"hi":209,"s":"***"},{"g":"ZB","v":258,"hi":283,"s":"**"},{"g":"MeDTC","v":548,"hi":606,"s":"**"}]},
"encoding":{"x":{"field":"g","type":"nominal","sort":["DMSO","MB","NB","ZB","MeDTC"],"scale":{"paddingInner":0.36,"paddingOuter":0.42},"axis":{"title":null,"labelAngle":0,"labelFontSize":14,"labelPadding":5}}},
"layer":[
{"mark":{"type":"rule","strokeWidth":2.5,"color":"black"},"encoding":{"y":{"datum":0}}},
{"mark":{"type":"bar","stroke":"black","strokeWidth":3},"encoding":{"y":{"field":"v","type":"quantitative","scale":{"domain":[-200,800],"nice":false},"axis":{"values":[-200,0,200,400,600,800],"title":"ECAR (% Basal)"}},
"fill":{"condition":[{"test":"datum.g==='DMSO'","value":"#636363"},{"test":"datum.g==='MB'","value":"#4b4b4b"},{"test":"datum.g==='NB'","value":{"gradient":"linear","x1":0,"y1":0,"x2":0,"y2":1,"stops":[{"offset":0,"color":"#111"},{"offset":0.03,"color":"#111"},{"offset":0.03,"color":"#fff"},{"offset":0.1,"color":"#fff"},{"offset":0.1,"color":"#111"},{"offset":0.13,"color":"#111"},{"offset":0.13,"color":"#fff"},{"offset":0.2,"color":"#fff"},{"offset":0.2,"color":"#111"},{"offset":0.23,"color":"#111"},{"offset":0.23,"color":"#fff"},{"offset":0.3,"color":"#fff"},{"offset":0.3,"color":"#111"},{"offset":0.33,"color":"#111"},{"offset":0.33,"color":"#fff"},{"offset":0.4,"color":"#fff"},{"offset":0.4,"color":"#111"},{"offset":0.43,"color":"#111"},{"offset":0.43,"color":"#fff"},{"offset":0.5,"color":"#fff"},{"offset":0.5,"color":"#111"},{"offset":0.53,"color":"#111"},{"offset":0.53,"color":"#fff"},{"offset":0.6,"color":"#fff"},{"offset":0.6,"color":"#111"},{"offset":0.63,"color":"#111"},{"offset":0.63,"color":"#fff"},{"offset":0.7,"color":"#fff"},{"offset":0.7,"color":"#111"},{"offset":0.73,"color":"#111"},{"offset":0.73,"color":"#fff"},{"offset":0.8,"color":"#fff"},{"offset":0.8,"color":"#111"},{"offset":0.83,"color":"#111"},{"offset":0.83,"color":"#fff"},{"offset":0.9,"color":"#fff"},{"offset":0.9,"color":"#111"},{"offset":0.93,"color":"#111"},{"offset":0.93,"color":"#fff"},{"offset":1,"color":"#fff"}]}},{"test":"datum.g==='ZB'","value":{"gradient":"linear","x1":0,"y1":0,"x2":1,"y2":0,"stops":[{"offset":0,"color":"#d9d9d9"},{"offset":0.12,"color":"#d9d9d9"},{"offset":0.12,"color":"#555"},{"offset":0.17,"color":"#555"},{"offset":0.17,"color":"#d9d9d9"},{"offset":0.29,"color":"#d9d9d9"},{"offset":0.29,"color":"#555"},{"offset":0.34,"color":"#555"},{"offset":0.34,"color":"#d9d9d9"},{"offset":0.46,"color":"#d9d9d9"},{"offset":0.46,"color":"#555"},{"offset":0.51,"color":"#555"},{"offset":0.51,"color":"#d9d9d9"},{"offset":0.63,"color":"#d9d9d9"},{"offset":0.63,"color":"#555"},{"offset":0.68,"color":"#555"},{"offset":0.68,"color":"#d9d9d9"},{"offset":0.8,"color":"#d9d9d9"},{"offset":0.8,"color":"#555"},{"offset":0.85,"color":"#555"},{"offset":0.85,"color":"#d9d9d9"},{"offset":1,"color":"#d9d9d9"}]}}],"value":"#c8c8c8"}}},
{"mark":{"type":"rule","strokeWidth":2.5,"color":"black"},"encoding":{"y":{"field":"v","type":"quantitative"},"y2":{"field":"hi"}}},
{"mark":{"type":"tick","thickness":2.5,"size":20,"color":"black"},"encoding":{"y":{"field":"hi","type":"quantitative"}}},
{"transform":[{"filter":"datum.hi >= datum.v"}],"mark":{"type":"text","baseline":"bottom","dy":-1,"fontSize":16,"fontWeight":"bold","color":"black"},"encoding":{"y":{"field":"hi","type":"quantitative"},"text":{"field":"s"}}},
{"transform":[{"filter":"datum.hi < datum.v"}],"mark":{"type":"text","baseline":"bottom","dy":-3,"fontSize":16,"fontWeight":"bold","color":"black"},"encoding":{"y":{"datum":0},"text":{"field":"s"}}}]},
{"width":285,"height":220,"title":{"text":"K)","fontSize":25,"offset":-27,"dx":-7},
"data":{"values":[{"g":"DMSO","v":60,"hi":66.7,"s":""},{"g":"MB","v":-15,"hi":-19,"s":"***"},{"g":"NB","v":16,"hi":23,"s":"*"},{"g":"ZB","v":32.5,"hi":46,"s":""},{"g":"MeDTC","v":69,"hi":86,"s":""}]},
"encoding":{"x":{"field":"g","type":"nominal","sort":["DMSO","MB","NB","ZB","MeDTC"],"scale":{"paddingInner":0.36,"paddingOuter":0.42},"axis":{"title":null,"labelAngle":0,"labelFontSize":14,"labelPadding":5}}},
"layer":[
{"mark":{"type":"rule","strokeWidth":2.5,"color":"black"},"encoding":{"y":{"datum":0}}},
{"mark":{"type":"bar","stroke":"black","strokeWidth":3},"encoding":{"y":{"field":"v","type":"quantitative","scale":{"domain":[-50,100],"nice":false},"axis":{"values":[-50,0,50,100],"title":"ECAR (% Basal)"}},
"fill":{"condition":[{"test":"datum.g==='DMSO'","value":"#636363"},{"test":"datum.g==='MB'","value":"#4b4b4b"},{"test":"datum.g==='NB'","value":{"gradient":"linear","x1":0,"y1":0,"x2":0,"y2":1,"stops":[{"offset":0,"color":"#111"},{"offset":0.03,"color":"#111"},{"offset":0.03,"color":"#fff"},{"offset":0.1,"color":"#fff"},{"offset":0.1,"color":"#111"},{"offset":0.13,"color":"#111"},{"offset":0.13,"color":"#fff"},{"offset":0.2,"color":"#fff"},{"offset":0.2,"color":"#111"},{"offset":0.23,"color":"#111"},{"offset":0.23,"color":"#fff"},{"offset":0.3,"color":"#fff"},{"offset":0.3,"color":"#111"},{"offset":0.33,"color":"#111"},{"offset":0.33,"color":"#fff"},{"offset":0.4,"color":"#fff"},{"offset":0.4,"color":"#111"},{"offset":0.43,"color":"#111"},{"offset":0.43,"color":"#fff"},{"offset":0.5,"color":"#fff"},{"offset":0.5,"color":"#111"},{"offset":0.53,"color":"#111"},{"offset":0.53,"color":"#fff"},{"offset":0.6,"color":"#fff"},{"offset":0.6,"color":"#111"},{"offset":0.63,"color":"#111"},{"offset":0.63,"color":"#fff"},{"offset":0.7,"color":"#fff"},{"offset":0.7,"color":"#111"},{"offset":0.73,"color":"#111"},{"offset":0.73,"color":"#fff"},{"offset":0.8,"color":"#fff"},{"offset":0.8,"color":"#111"},{"offset":0.83,"color":"#111"},{"offset":0.83,"color":"#fff"},{"offset":0.9,"color":"#fff"},{"offset":0.9,"color":"#111"},{"offset":0.93,"color":"#111"},{"offset":0.93,"color":"#fff"},{"offset":1,"color":"#fff"}]}},{"test":"datum.g==='ZB'","value":{"gradient":"linear","x1":0,"y1":0,"x2":1,"y2":0,"stops":[{"offset":0,"color":"#d9d9d9"},{"offset":0.12,"color":"#d9d9d9"},{"offset":0.12,"color":"#555"},{"offset":0.17,"color":"#555"},{"offset":0.17,"color":"#d9d9d9"},{"offset":0.29,"color":"#d9d9d9"},{"offset":0.29,"color":"#555"},{"offset":0.34,"color":"#555"},{"offset":0.34,"color":"#d9d9d9"},{"offset":0.46,"color":"#d9d9d9"},{"offset":0.46,"color":"#555"},{"offset":0.51,"color":"#555"},{"offset":0.51,"color":"#d9d9d9"},{"offset":0.63,"color":"#d9d9d9"},{"offset":0.63,"color":"#555"},{"offset":0.68,"color":"#555"},{"offset":0.68,"color":"#d9d9d9"},{"offset":0.8,"color":"#d9d9d9"},{"offset":0.8,"color":"#555"},{"offset":0.85,"color":"#555"},{"offset":0.85,"color":"#d9d9d9"},{"offset":1,"color":"#d9d9d9"}]}}],"value":"#c8c8c8"}}},
{"mark":{"type":"rule","strokeWidth":2.5,"color":"black"},"encoding":{"y":{"field":"v","type":"quantitative"},"y2":{"field":"hi"}}},
{"mark":{"type":"tick","thickness":2.5,"size":20,"color":"black"},"encoding":{"y":{"field":"hi","type":"quantitative"}}},
{"transform":[{"filter":"datum.hi >= datum.v"}],"mark":{"type":"text","baseline":"bottom","dy":-1,"fontSize":16,"fontWeight":"bold","color":"black"},"encoding":{"y":{"field":"hi","type":"quantitative"},"text":{"field":"s"}}},
{"transform":[{"filter":"datum.hi < datum.v"}],"mark":{"type":"text","baseline":"top","dy":4,"fontSize":16,"fontWeight":"bold","color":"black"},"encoding":{"y":{"field":"hi","type":"quantitative"},"text":{"field":"s"}}}]}
],"columns":3,"align":"none","spacing":5}
],"spacing":48}
]
}
